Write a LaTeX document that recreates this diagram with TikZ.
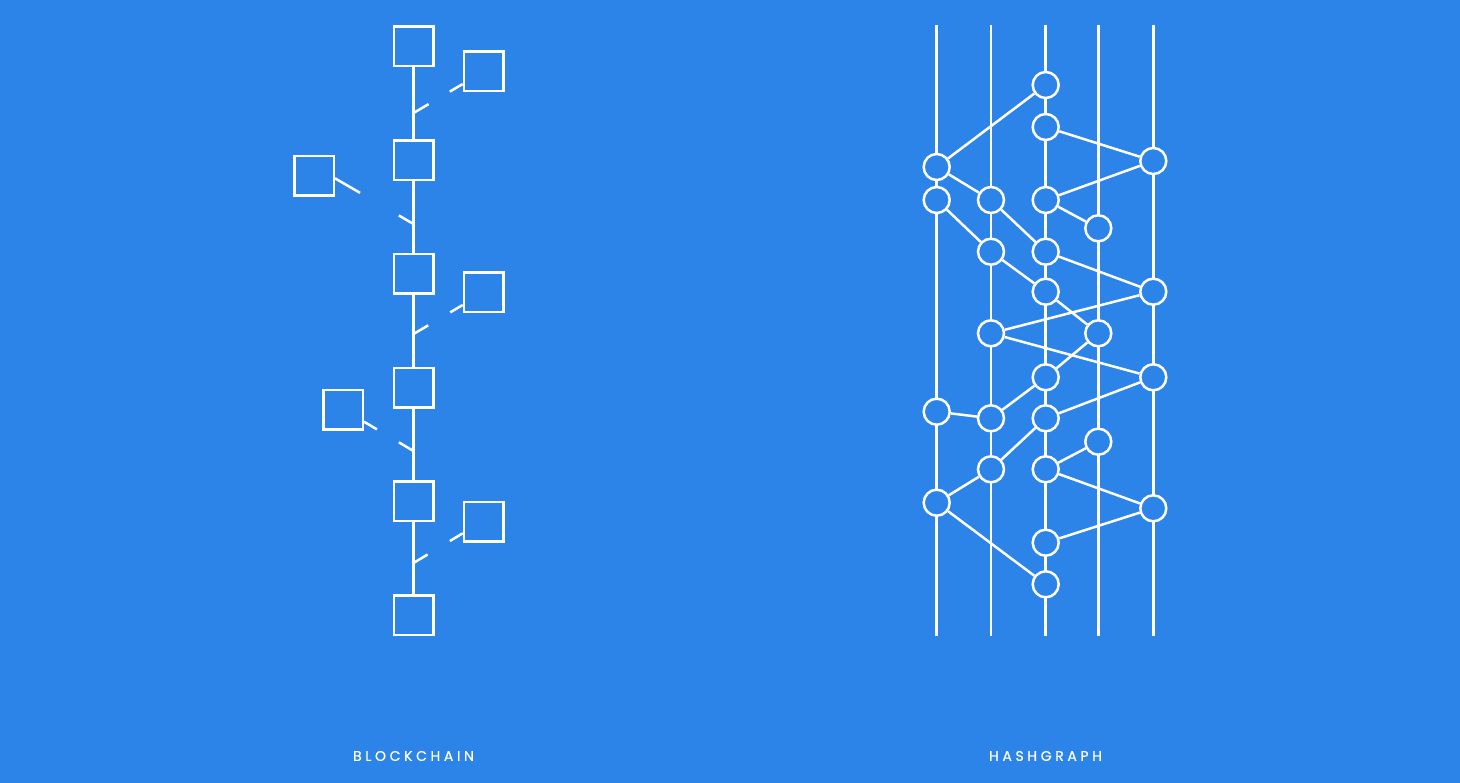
\documentclass[tikz,border=0pt]{standalone}
\usepackage{fontspec}
\newfontfamily\labfont[LetterSpace=26,FakeBold=0.8]{Poppins}
\usetikzlibrary{calc}
\definecolor{bg}{RGB}{44,132,233}
\begin{document}
\begin{tikzpicture}[x=1pt,y=-1pt,
  ln/.style={draw=white,line width=2.5pt},
  blk/.style={draw=white,line width=2.5pt,fill=bg,minimum size=39.5pt,inner sep=0pt,rectangle},
  evt/.style={draw=white,line width=2.5pt,fill=bg,minimum size=26pt,inner sep=0pt,circle},
  lab/.style={text=white,font=\labfont\fontsize{14}{16}\selectfont,inner sep=0pt}]
\fill[bg] (0,0) rectangle (1460,783);
\useasboundingbox (0,0) rectangle (1460,783);

% ---------- Blockchain ----------
\node[blk] (b1) at (413.5,46.5) {};
\node[blk] (b2) at (413.5,160.2) {};
\node[blk] (b3) at (413.5,273.9) {};
\node[blk] (b4) at (413.5,387.6) {};
\node[blk] (b5) at (413.5,501.3) {};
\node[blk] (b6) at (413.5,615) {};
\draw[ln] (b1) -- (b2);
\draw[ln] (b2) -- (b3);
\draw[ln] (b3) -- (b4);
\draw[ln] (b4) -- (b5);
\draw[ln] (b5) -- (b6);

\node[blk] (s1) at (483.7,71.5) {};
\node[blk] (s2) at (314,176) {};
\node[blk] (s3) at (483.7,292.5) {};
\node[blk] (s4) at (343,409.8) {};
\node[blk] (s5) at (483.7,521.7) {};

\coordinate (p1) at (413.5,113);
\coordinate (p2) at (413.5,224);
\coordinate (p3) at (413.5,334);
\coordinate (p4) at (413.5,451);
\coordinate (p5) at (413.5,563);
\coordinate (q1) at ($(s1.west)+(0,12.5)$);
\coordinate (q2) at ($(s2.east)+(0,2.3)$);
\coordinate (q3) at ($(s3.west)+(0,12.5)$);
\coordinate (q4) at ($(s4.east)+(0,11.9)$);
\coordinate (q5) at ($(s5.west)+(0,11.6)$);
\draw[ln] (p1) -- ($(p1)!17.5pt!(q1)$);
\draw[ln] (q1) -- ($(q1)!15pt!(p1)$);
\draw[ln] (p2) -- ($(p2)!17pt!(q2)$);
\draw[ln] (q2) -- ($(q2)!29pt!(p2)$);
\draw[ln] (p3) -- ($(p3)!17pt!(q3)$);
\draw[ln] (q3) -- ($(q3)!14.5pt!(p3)$);
\draw[ln] (p4) -- ($(p4)!17pt!(q4)$);
\draw[ln] (q4) -- ($(q4)!15pt!(p4)$);
\draw[ln] (p5) -- ($(p5)!16.5pt!(q5)$);
\draw[ln] (q5) -- ($(q5)!15pt!(p5)$);

% ---------- Hashgraph ----------
\foreach \i/\x in {1/936.7,2/991,3/1045.7,4/1098.3,5/1153.3}{
  \coordinate (t\i) at (\x,25);
  \coordinate (u\i) at (\x,636);
  \draw[ln] (t\i) -- (u\i);
}
\node[evt] (A) at (1045.7,85) {};
\node[evt] (B) at (1045.7,127) {};
\node[evt] (C) at (936.7,167) {};
\node[evt] (D) at (1153.3,161) {};
\node[evt] (E) at (936.7,200) {};
\node[evt] (F) at (991,200) {};
\node[evt] (G) at (1045.7,200) {};
\node[evt] (H) at (1098.3,228.3) {};
\node[evt] (I) at (991,251.7) {};
\node[evt] (J) at (1045.7,251.7) {};
\node[evt] (K) at (1045.7,291.7) {};
\node[evt] (L) at (1153.3,291.7) {};
\node[evt] (M) at (991,333.3) {};
\node[evt] (N) at (1098.3,333.3) {};
\node[evt] (O) at (1045.7,377.3) {};
\node[evt] (P) at (1153.3,377.3) {};
\node[evt] (Q) at (936.7,411.7) {};
\node[evt] (R) at (991,418.3) {};
\node[evt] (S) at (1045.7,418.3) {};
\node[evt] (T) at (1098.3,441.7) {};
\node[evt] (U) at (991,469.3) {};
\node[evt] (V) at (1045.7,469.3) {};
\node[evt] (W) at (936.7,502.7) {};
\node[evt] (X) at (1153.3,508.3) {};
\node[evt] (Y) at (1045.7,542.7) {};
\node[evt] (Z) at (1045.7,584.3) {};
\foreach \a/\b in {C/A,B/D,C/F,D/G,E/I,F/J,G/H,I/K,J/L,L/M,K/N,M/P,N/O,O/R,Q/R,P/S,S/U,T/V,U/W,V/X,X/Y,W/Z}{
  \draw[ln] (\a) -- (\b);
}

% ---------- Labels ----------
\node[lab] (bl) at (413.5,756) {BLOCKCHAIN};
\node[lab] (hl) at (1045.5,756) {HASHGRAPH};
\end{tikzpicture}
\end{document}
